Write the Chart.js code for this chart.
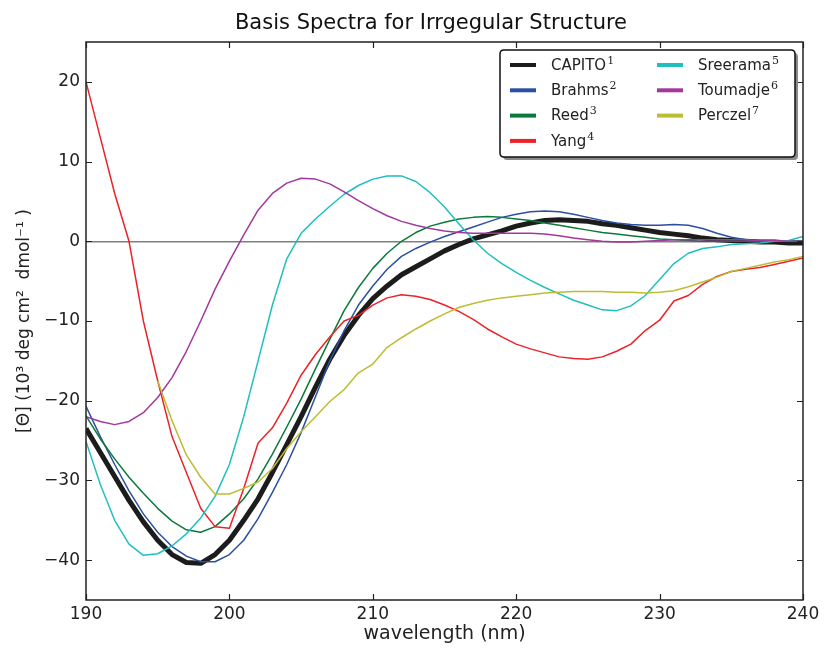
<!DOCTYPE html>
<html lang="en">
<head>
<meta charset="UTF-8">
<title>Basis Spectra for Irrgegular Structure</title>
<script src="https://cdn.jsdelivr.net/npm/chart.js"></script>
<style>
  html, body { margin: 0; padding: 0; background: #fff; }
</style>
</head>
<body>
<canvas id="spectra" width="826" height="648"></canvas>
<script>
// wavelength grid (nm)
const wavelength = [190, 191, 192, 193, 194, 195, 196, 197, 198, 199,
                    200, 201, 202, 203, 204, 205, 206, 207, 208, 209,
                    210, 211, 212, 213, 214, 215, 216, 217, 218, 219,
                    220, 221, 222, 223, 224, 225, 226, 227, 228, 229,
                    230, 231, 232, 233, 234, 235, 236, 237, 238, 239, 240];

const capito = [-23.5, -26.5, -29.5, -32.5, -35.2, -37.5, -39.3, -40.3, -40.4, -39.3,
                -37.5, -35.0, -32.3, -29.0, -25.5, -22.0, -18.3, -14.8, -11.8, -9.3,
                -7.2, -5.6, -4.2, -3.2, -2.2, -1.2, -0.4, 0.3, 0.8, 1.3,
                1.9, 2.3, 2.6, 2.7, 2.6, 2.5, 2.2, 2.0, 1.7, 1.4,
                1.1, 0.9, 0.7, 0.4, 0.2, 0.1, 0.0, -0.1, -0.1, -0.2, -0.2];

const brahms = [-20.7, -24.5, -28.0, -31.3, -34.2, -36.5, -38.3, -39.5, -40.2, -40.2,
                -39.3, -37.5, -34.8, -31.5, -28.0, -24.0, -19.5, -15.0, -11.2, -8.0,
                -5.6, -3.5, -1.9, -0.9, -0.1, 0.6, 1.2, 1.8, 2.4, 3.0,
                3.4, 3.7, 3.8, 3.7, 3.4, 3.0, 2.6, 2.3, 2.1, 2.0,
                2.0, 2.1, 2.0, 1.6, 1.0, 0.5, 0.2, 0.0, 0.0, 0.0, 0.0];

const reed = [-21.9, -24.8, -27.3, -29.6, -31.6, -33.5, -35.1, -36.2, -36.5, -35.8,
              -34.2, -32.3, -29.8, -26.7, -23.3, -19.8, -16.0, -12.3, -8.7, -5.8,
              -3.4, -1.5, 0.0, 1.1, 1.9, 2.4, 2.8, 3.0, 3.1, 3.0,
              2.8, 2.6, 2.3, 2.0, 1.7, 1.4, 1.1, 0.9, 0.7, 0.5,
              0.3, 0.2, 0.1, 0.0, 0.0, 0.0, 0.0, 0.0, 0.0, 0.0, 0.0];

const yang = [20.0, 13.0, 6.0, 0.0, -10.0, -17.5, -24.5, -29.0, -33.5, -35.8,
              -36.0, -31.0, -25.3, -23.4, -20.3, -16.8, -14.2, -12.0, -10.0, -9.3,
              -8.0, -7.1, -6.7, -6.9, -7.3, -8.0, -8.8, -9.8, -11.0, -12.0,
              -12.9, -13.5, -14.0, -14.5, -14.7, -14.8, -14.5, -13.8, -12.9, -11.2,
              -9.9, -7.5, -6.8, -5.4, -4.4, -3.8, -3.5, -3.3, -2.9, -2.5, -2.1];

const sreerama = [-25.1, -30.5, -35.0, -38.0, -39.4, -39.2, -38.2, -36.7, -34.7, -32.0,
                  -28.0, -22.0, -15.0, -8.0, -2.2, 1.0, 2.8, 4.4, 5.9, 7.0,
                  7.8, 8.2, 8.2, 7.5, 6.1, 4.3, 2.2, 0.2, -1.5, -2.8,
                  -3.9, -4.9, -5.8, -6.6, -7.4, -8.0, -8.6, -8.7, -8.1, -6.8,
                  -4.8, -2.8, -1.5, -0.9, -0.7, -0.4, -0.3, -0.2, 0.0, 0.1, 0.6];

const toumadje = [-22.0, -22.6, -23.0, -22.6, -21.5, -19.6, -17.1, -13.8, -10.0, -6.0,
                  -2.5, 0.8, 3.9, 6.0, 7.3, 7.9, 7.8, 7.2, 6.2, 5.1,
                  4.1, 3.2, 2.5, 2.0, 1.6, 1.3, 1.1, 1.0, 1.0, 1.0,
                  1.0, 1.0, 0.9, 0.7, 0.4, 0.2, 0.0, -0.1, -0.1, 0.0,
                  0.1, 0.2, 0.2, 0.2, 0.2, 0.2, 0.2, 0.1, 0.1, 0.0, 0.0];

// Perczel basis only starts at 195 nm
const perczel = [null, null, null, null, null, -17.5, -22.5, -26.8, -29.6, -31.7,
                 -31.7, -31.0, -30.2, -28.5, -26.0, -23.9, -22.0, -20.1, -18.6, -16.5,
                 -15.4, -13.3, -12.1, -11.0, -10.0, -9.1, -8.3, -7.8, -7.4, -7.1,
                 -6.9, -6.7, -6.5, -6.4, -6.3, -6.3, -6.3, -6.4, -6.4, -6.5,
                 -6.4, -6.2, -5.7, -5.1, -4.5, -3.8, -3.4, -3.0, -2.6, -2.3, -1.9];

const seriesNames = ['CAPITO', 'Brahms', 'Reed', 'Yang', 'Sreerama', 'Toumadje', 'Perczel'];
const refMarks = ['1', '2', '3', '4', '5', '6', '7'];
const seriesValues = [capito, brahms, reed, yang, sreerama, toumadje, perczel];
const seriesColors = ['#1c1c1c', '#2b4fa1', '#0a7a3c', '#ec2229', '#1fbfbf', '#a2389c', '#bdbd33'];
const seriesWidths = [5, 1.5, 1.5, 1.5, 1.5, 1.5, 1.5];

const xTicks = [190, 200, 210, 220, 230, 240];
const yTicks = [-40, -30, -20, -10, 0, 10, 20];

const chartTitle = 'Basis Spectra for Irrgegular Structure';

const FONT = "'DejaVu Sans', sans-serif";
const SUP_FONT = "'DejaVu Serif', 'Liberation Serif', serif";

function minusSign(v) {
    return String(v).replace('-', '\u2212');
}

// title, set a little left of the plot centre
const plotTitle = {
    id: 'plotTitle',
    afterDraw(chart) {
        const { ctx } = chart;
        ctx.save();
        ctx.fillStyle = '#111';
        ctx.font = '21px ' + FONT;
        ctx.textAlign = 'center';
        ctx.textBaseline = 'middle';
        ctx.fillText(chartTitle, 431, 24);
        ctx.restore();
    }
};

// frame round the plot area plus inward tick marks on all four sides
const frameTicks = {
    id: 'frameTicks',
    afterDatasetsDraw(chart) {
        const { ctx, chartArea: a, scales: { x, y } } = chart;
        ctx.save();
        ctx.strokeStyle = '#222';
        ctx.lineWidth = 1.2;
        ctx.beginPath();
        xTicks.forEach(v => {
            const px = Math.round(x.getPixelForValue(v)) + 0.5;
            ctx.moveTo(px, a.bottom); ctx.lineTo(px, a.bottom - 6);
            ctx.moveTo(px, a.top); ctx.lineTo(px, a.top + 6);
        });
        yTicks.forEach(v => {
            const py = Math.round(y.getPixelForValue(v)) + 0.5;
            ctx.moveTo(a.left, py); ctx.lineTo(a.left + 6, py);
            ctx.moveTo(a.right, py); ctx.lineTo(a.right - 6, py);
        });
        ctx.stroke();
        ctx.lineWidth = 1.5;
        ctx.strokeStyle = '#222';
        ctx.strokeRect(a.left, a.top, a.right - a.left, a.bottom - a.top);
        ctx.restore();
    }
};

// two-column legend box with a drop shadow, filled column by column
const boxLegend = {
    id: 'boxLegend',
    afterDraw(chart) {
        const { ctx } = chart;
        const bx = 500, by = 50, bw = 295, bh = 107;
        ctx.save();
        ctx.fillStyle = '#8a8a8a';
        roundRect(ctx, bx + 3, by + 3, bw, bh, 4);
        ctx.fill();
        ctx.fillStyle = '#fff';
        ctx.strokeStyle = '#111';
        ctx.lineWidth = 1.5;
        roundRect(ctx, bx, by, bw, bh, 4);
        ctx.fill();
        ctx.stroke();

        ctx.textBaseline = 'middle';
        ctx.textAlign = 'left';
        chart.data.datasets.forEach((ds, i) => {
            const col = i < 4 ? 0 : 1;
            const row = i < 4 ? i : i - 4;
            const lx = col === 0 ? 510 : 657;
            const ly = 65 + row * 25.3;
            ctx.strokeStyle = ds.borderColor;
            ctx.lineWidth = 4;
            ctx.beginPath();
            ctx.moveTo(lx, ly);
            ctx.lineTo(lx + 26, ly);
            ctx.stroke();
            ctx.fillStyle = '#222';
            ctx.font = '15px ' + FONT;
            ctx.fillText(seriesNames[i], lx + 41, ly + 1);
            const w = ctx.measureText(seriesNames[i]).width;
            ctx.font = '11px ' + SUP_FONT;
            ctx.fillText(refMarks[i], lx + 41 + w + 1, ly - 4);
        });
        ctx.restore();
    }
};

function roundRect(ctx, x, y, w, h, r) {
    ctx.beginPath();
    ctx.moveTo(x + r, y);
    ctx.lineTo(x + w - r, y);
    ctx.quadraticCurveTo(x + w, y, x + w, y + r);
    ctx.lineTo(x + w, y + h - r);
    ctx.quadraticCurveTo(x + w, y + h, x + w - r, y + h);
    ctx.lineTo(x + r, y + h);
    ctx.quadraticCurveTo(x, y + h, x, y + h - r);
    ctx.lineTo(x, y + r);
    ctx.quadraticCurveTo(x, y, x + r, y);
    ctx.closePath();
}

const datasets = seriesNames.map((name, i) => ({
    label: name,
    data: wavelength.map((w, j) => ({ x: w, y: seriesValues[i][j] })),
    borderColor: seriesColors[i],
    backgroundColor: seriesColors[i],
    borderWidth: seriesWidths[i],
    pointRadius: 0,
    tension: 0,
    spanGaps: false,
    borderJoinStyle: 'round',
    order: seriesNames.length - i
}));

new Chart(document.getElementById('spectra'), {
    type: 'line',
    data: { datasets: datasets },
    plugins: [frameTicks, boxLegend, plotTitle],
    options: {
        responsive: false,
        animation: false,
        devicePixelRatio: 1,
        layout: { padding: { left: 0, right: 23, top: 42, bottom: 0 } },
        plugins: {
            legend: { display: false },
            tooltip: { enabled: false },
            title: { display: false }
        },
        scales: {
            x: {
                type: 'linear',
                min: 190,
                max: 240,
                afterBuildTicks: s => { s.ticks = xTicks.map(v => ({ value: v })); },
                afterFit: s => { s.height = 48; },
                grid: { display: false, drawTicks: false },
                border: { display: false },
                ticks: {
                    color: '#222',
                    padding: 4,
                    maxRotation: 0,
                    font: { family: FONT, size: 17 },
                    callback: v => minusSign(v)
                },
                title: {
                    display: true,
                    text: 'wavelength (nm)',
                    color: '#222',
                    font: { family: FONT, size: 19 },
                    padding: { top: 0, bottom: 3 }
                }
            },
            y: {
                type: 'linear',
                min: -45,
                max: 25,
                afterBuildTicks: s => { s.ticks = yTicks.map(v => ({ value: v })); },
                afterFit: s => { s.width = 86; },
                grid: {
                    drawTicks: false,
                    color: c => (c.tick && c.tick.value === 0 ? '#7f7f7f' : 'rgba(0,0,0,0)'),
                    lineWidth: 1.5
                },
                border: { display: false },
                ticks: {
                    color: '#222',
                    padding: 6,
                    font: { family: FONT, size: 17 },
                    callback: v => minusSign(v)
                },
                title: {
                    display: true,
                    text: '[\u0398] (10\u00b3 deg cm\u00b2  dmol\u207b\u00b9 )',
                    color: '#222',
                    font: { family: FONT, size: 17 },
                    padding: { top: 14, bottom: 0 }
                }
            }
        }
    }
});
</script>
</body>
</html>
